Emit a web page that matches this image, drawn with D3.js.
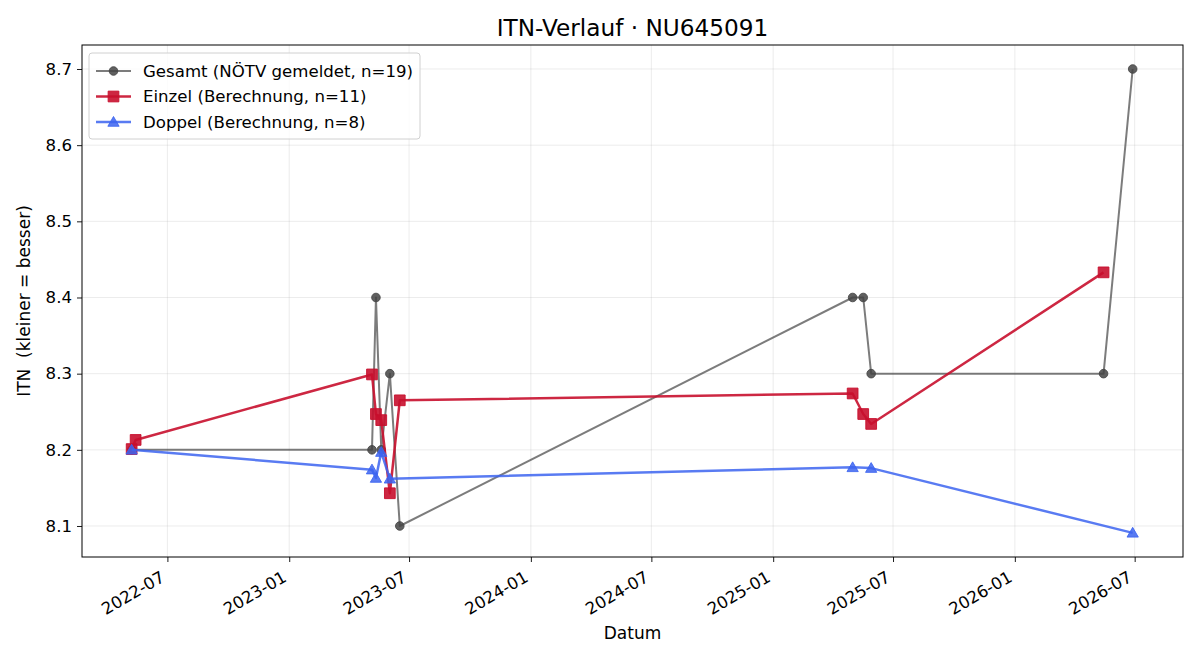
<!DOCTYPE html>
<html>
<head>
<meta charset="utf-8">
<script src="https://cdn.jsdelivr.net/npm/d3@7"></script>
<style>
  body { margin: 0; background: #fff; }
  text { font-family: "DejaVu Sans", sans-serif; }
</style>
</head>
<body>
<div id="chart"></div>
<script>
// Gesamt (gemeldet)
var gesamtDates = ["2022-05-08", "2023-05-06", "2023-05-12", "2023-05-20", "2023-06-02", "2023-06-17",
                   "2025-05-01", "2025-05-17", "2025-05-29", "2026-05-15", "2026-06-28"];
var gesamtValues = [8.2, 8.2, 8.4, 8.2, 8.3, 8.1, 8.4, 8.4, 8.3, 8.3, 8.7];

// Einzel (berechnet)
var einzelDates = ["2022-05-08", "2022-05-14", "2023-05-06", "2023-05-12", "2023-05-20", "2023-06-02",
                   "2023-06-17", "2025-05-01", "2025-05-17", "2025-05-29", "2026-05-15"];
var einzelValues = [8.201, 8.213, 8.299, 8.247, 8.239, 8.143, 8.265, 8.274, 8.247, 8.234, 8.433];

// Doppel (berechnet)
var doppelDates = ["2022-05-08", "2023-05-06", "2023-05-12", "2023-05-20", "2023-06-02",
                   "2025-05-01", "2025-05-29", "2026-06-28"];
var doppelValues = [8.2, 8.174, 8.163, 8.197, 8.162, 8.177, 8.176, 8.091];

var yTicks = [8.1, 8.2, 8.3, 8.4, 8.5, 8.6, 8.7];
var xTicks = ["2022-07-01", "2023-01-01", "2023-07-01", "2024-01-01", "2024-07-01",
              "2025-01-01", "2025-07-01", "2026-01-01", "2026-07-01"];
var legendLabels = ["Gesamt (NÖTV gemeldet, n=19)", "Einzel (Berechnung, n=11)", "Doppel (Berechnung, n=8)"];

var parse = d3.timeParse("%Y-%m-%d");
function zipSeries(dates, vals) {
  return dates.map(function(d, i) { return {date: parse(d), value: vals[i]}; });
}

var series = [
  {name: legendLabels[0], data: zipSeries(gesamtDates, gesamtValues), color: "#444444", lineOp: 0.7, markOp: 0.85, width: 2, marker: "circle"},
  {name: legendLabels[1], data: zipSeries(einzelDates, einzelValues), color: "#c8102e", lineOp: 0.9, markOp: 0.9, width: 2.5, marker: "square"},
  {name: legendLabels[2], data: zipSeries(doppelDates, doppelValues), color: "#3c64f0", lineOp: 0.85, markOp: 0.85, width: 2.5, marker: "triangle"}
];

var W = 1200, H = 660;
var margin = {top: 45, right: 17, bottom: 103, left: 82};
var width = W - margin.left - margin.right;
var height = H - margin.top - margin.bottom;
var tickFont = 16.6;

var svg = d3.select("#chart").append("svg")
  .attr("width", W)
  .attr("height", H);

var g = svg.append("g")
  .attr("transform", "translate(" + margin.left + "," + margin.top + ")");

var x = d3.scaleTime()
  .domain([parse("2022-02-22"), parse("2026-09-12")])
  .range([0, width]);
var y = d3.scaleLinear()
  .domain([8.0593, 8.7315])
  .range([height, 0]);

var xTickDates = xTicks.map(parse);

// grid
g.append("g").selectAll("line")
  .data(xTickDates).enter().append("line")
  .attr("x1", function(d) { return x(d); })
  .attr("x2", function(d) { return x(d); })
  .attr("y1", 0).attr("y2", height)
  .attr("stroke", "#b0b0b0").attr("stroke-opacity", 0.3).attr("stroke-width", 0.8);
g.append("g").selectAll("line")
  .data(yTicks).enter().append("line")
  .attr("x1", 0).attr("x2", width)
  .attr("y1", function(d) { return y(d); })
  .attr("y2", function(d) { return y(d); })
  .attr("stroke", "#b0b0b0").attr("stroke-opacity", 0.3).attr("stroke-width", 0.8);

// axes
var xAxis = g.append("g")
  .attr("transform", "translate(0," + height + ")")
  .call(d3.axisBottom(x).tickValues(xTickDates).tickFormat(d3.timeFormat("%Y-%m")).tickSizeOuter(0).tickSize(5).tickPadding(4));
// rotated labels, right end hanging under the tick
xAxis.selectAll("text")
  .attr("font-size", tickFont)
  .attr("fill", "#000")
  .style("text-anchor", "end")
  .attr("x", 0).attr("y", 0).attr("dy", null)
  .attr("transform", "translate(-2,23.5) rotate(-30)");

var yAxis = g.append("g")
  .call(d3.axisLeft(y).tickValues(yTicks).tickFormat(d3.format(".1f")).tickSizeOuter(0).tickSize(5).tickPadding(5));
yAxis.selectAll("text").attr("font-size", tickFont).attr("fill", "#000");
g.selectAll(".domain").remove();
g.selectAll(".tick line").attr("stroke", "#000").attr("stroke-width", 0.9);

g.append("rect")
  .attr("width", width).attr("height", height)
  .attr("fill", "none").attr("stroke", "#000").attr("stroke-width", 1);

// marker shapes
var symbols = {
  circle: d3.symbol().type(d3.symbolCircle).size(58),
  square: d3.symbol().type(d3.symbolSquare).size(115),
  triangle: d3.symbol().type(d3.symbolTriangle).size(55)
};

var line = d3.line()
  .x(function(d) { return x(d.date); })
  .y(function(d) { return y(d.value); });

series.forEach(function(s) {
  var sg = g.append("g");
  sg.append("path")
    .datum(s.data)
    .attr("d", line)
    .attr("fill", "none")
    .attr("stroke", s.color)
    .attr("stroke-opacity", s.lineOp)
    .attr("stroke-width", s.width)
    .attr("stroke-linejoin", "round");
  sg.selectAll(".pt")
    .data(s.data).enter().append("path")
    .attr("class", "pt")
    .attr("d", symbols[s.marker])
    .attr("transform", function(d) { return "translate(" + x(d.date) + "," + (y(d.value) + (s.marker == "triangle" ? 1 : 0)) + ")"; })
    .attr("fill", s.color)
    .attr("fill-opacity", s.markOp)
    .attr("stroke", s.color)
    .attr("stroke-opacity", s.markOp)
    .attr("stroke-width", 1);
});

// legend
var lg = g.append("g").attr("transform", "translate(7,8)");
lg.append("rect")
  .attr("width", 331).attr("height", 86)
  .attr("rx", 3)
  .attr("fill", "#fff").attr("fill-opacity", 0.8)
  .attr("stroke", "#d0d0d0");
series.forEach(function(s, i) {
  var row = lg.append("g").attr("transform", "translate(0," + (18 + i * 25.5) + ")");
  row.append("line")
    .attr("x1", 7).attr("x2", 42)
    .attr("stroke", s.color).attr("stroke-opacity", s.lineOp).attr("stroke-width", s.width);
  row.append("path")
    .attr("d", symbols[s.marker])
    .attr("transform", "translate(24.5," + (s.marker == "triangle" ? 1 : 0) + ")")
    .attr("fill", s.color).attr("fill-opacity", s.markOp)
    .attr("stroke", s.color).attr("stroke-opacity", s.markOp);
  row.append("text")
    .attr("x", 54).attr("dy", "0.35em")
    .attr("font-size", tickFont)
    .text(s.name);
});

// title & labels
svg.append("text")
  .attr("x", margin.left + width / 2).attr("y", 36)
  .attr("text-anchor", "middle")
  .attr("font-size", 23.2)
  .text("ITN-Verlauf · NU645091");

svg.append("text")
  .attr("x", margin.left + width / 2).attr("y", 639)
  .attr("text-anchor", "middle")
  .attr("font-size", 17)
  .text("Datum");

svg.append("text")
  .attr("transform", "translate(30," + (margin.top + height / 2) + ") rotate(-90)")
  .attr("text-anchor", "middle")
  .attr("font-size", 17)
  .style("white-space", "pre")
  .text("ITN  (kleiner = besser)");
</script>
</body>
</html>
